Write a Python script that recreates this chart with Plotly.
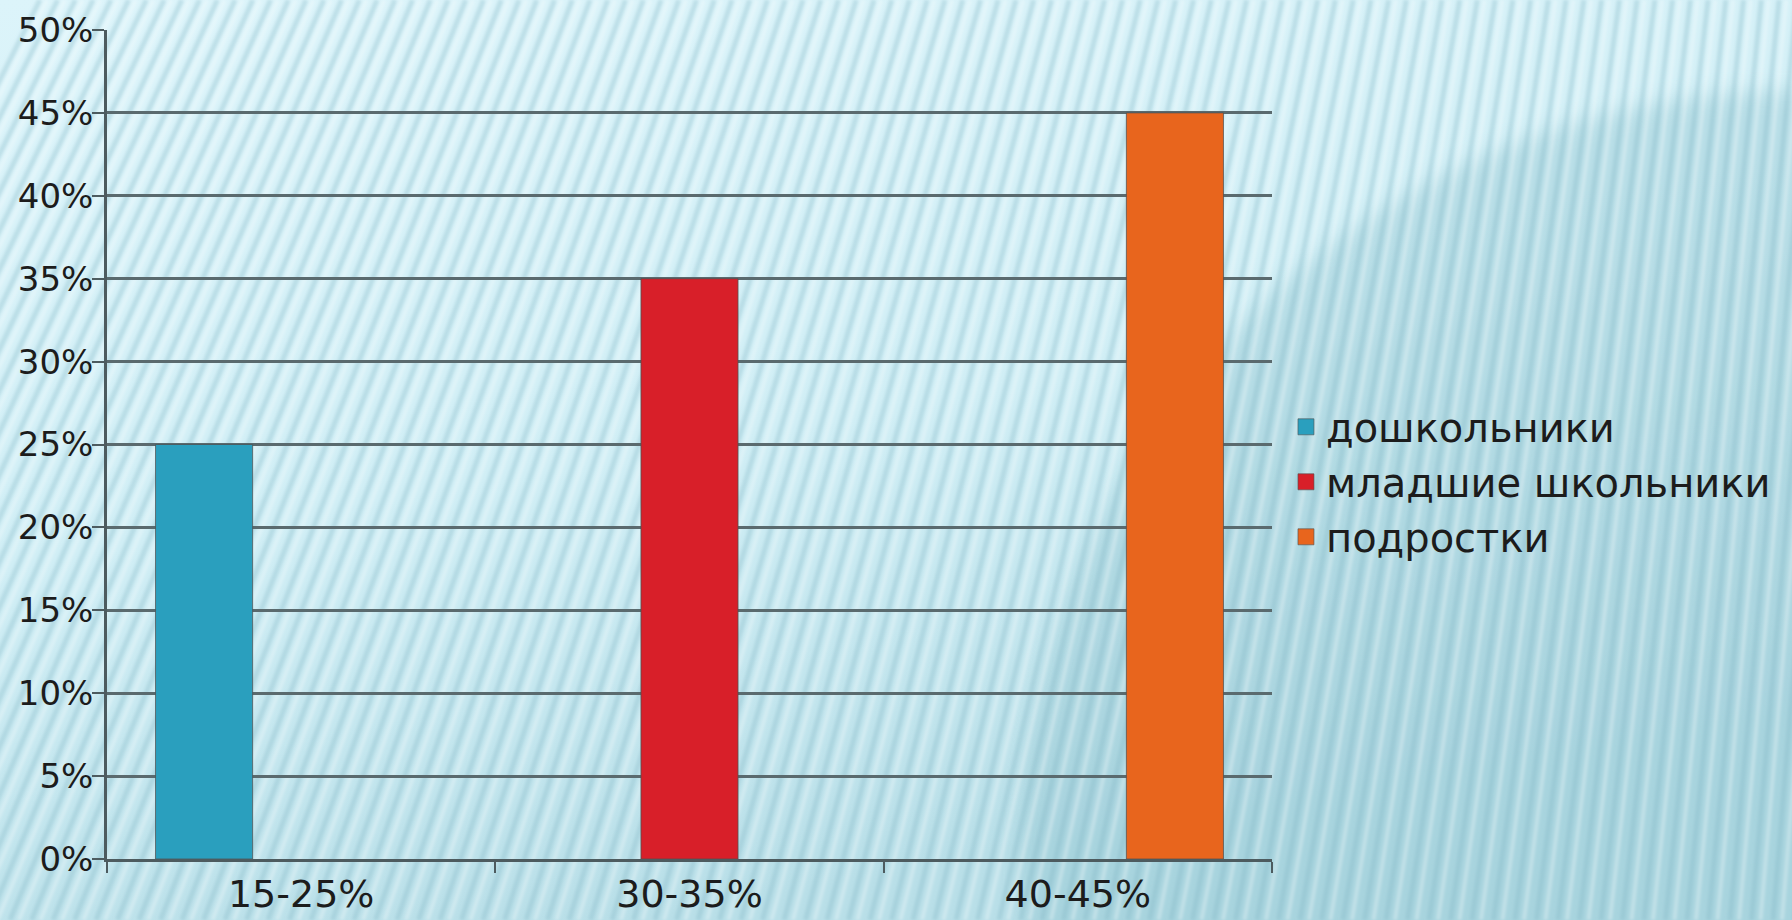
import base64
import plotly.graph_objects as go

# Chart data
categories = ["15-25%", "30-35%", "40-45%"]
series_names = ["дошкольники", "младшие школьники", "подростки"]
preschool = [25, None, None]
junior_school = [None, 35, None]
teenagers = [None, None, 45]
series_values = [preschool, junior_school, teenagers]
series_colors = ["#2a9fbe", "#d81f29", "#e8651d"]
y_ticks = [0, 5, 10, 15, 20, 25, 30, 35, 40, 45, 50]
y_tick_labels = [f"{v}%" for v in y_ticks]

W, H = 1792, 920
ML, MR, MT, MB = 107, 520, 30, 61
PW, PH = W - ML - MR, H - MT - MB


def background_svg():
    """Light cyan slide background with fanned diagonal stripes."""
    vx, vy = 2214.0, -4350.0  # point the stripes converge towards
    dark, light = [], []
    x = -420.0
    t = H / (H - vy)
    while x < W + 60:
        xt = x + (vx - x) * t
        dark.append(f'<line x1="{x:.1f}" y1="{H}" x2="{xt:.1f}" y2="0"/>')
        xl = x + 9
        xtl = xl + (vx - xl) * t
        light.append(f'<line x1="{xl:.1f}" y1="{H}" x2="{xtl:.1f}" y2="0"/>')
        x += 21.5
    svg = f'''<svg xmlns="http://www.w3.org/2000/svg" width="{W}" height="{H}" viewBox="0 0 {W} {H}">
<defs>
<linearGradient id="bg" x1="0" y1="0" x2="0.35" y2="1">
<stop offset="0" stop-color="#dcf4fa"/>
<stop offset="0.55" stop-color="#d0eef5"/>
<stop offset="1" stop-color="#b9dfe8"/>
</linearGradient>
<filter id="soft"><feGaussianBlur stdDeviation="1.6"/></filter>
<filter id="wide"><feGaussianBlur stdDeviation="10"/></filter>
</defs>
<rect width="{W}" height="{H}" fill="url(#bg)"/>
<circle cx="1795" cy="865" r="775" fill="#8fc3cf" opacity="0.38" filter="url(#wide)"/>
<g filter="url(#soft)">
<g stroke="#7fb5c3" stroke-opacity="0.32" stroke-width="5">{''.join(dark)}</g>
<g stroke="#ffffff" stroke-opacity="0.30" stroke-width="4">{''.join(light)}</g>
</g>
</svg>'''
    return "data:image/svg+xml;base64," + base64.b64encode(svg.encode()).decode()


fig = go.Figure()
for name, vals, col in zip(series_names, series_values, series_colors):
    fig.add_trace(go.Bar(
        x=categories, y=vals, name=name, legendgroup=name, showlegend=False,
        marker=dict(color=col, line=dict(color="rgba(80,80,80,0.75)", width=1)),
    ))
# legend entries with larger square swatches
for name, col in zip(series_names, series_colors):
    fig.add_trace(go.Scatter(
        x=[None], y=[None], mode="markers", name=name, legendgroup=name,
        marker=dict(symbol="square", size=16, color=col,
                    line=dict(color="rgba(80,80,80,0.6)", width=1)),
    ))

axis_col = "#4d5b5f"
fig.update_layout(
    width=W, height=H,
    margin=dict(l=ML, r=MR, t=MT, b=MB, autoexpand=False),
    paper_bgcolor="#d2eef5",
    plot_bgcolor="rgba(0,0,0,0)",
    barmode="group", bargap=0.25, bargroupgap=0,
    showlegend=True,
    legend=dict(
        x=1.012, xanchor="left", y=0.455, yanchor="middle",
        font=dict(family="DejaVu Sans", size=40, color="#1c1c1c"),
        bgcolor="rgba(0,0,0,0)", tracegroupgap=0, itemwidth=30,
    ),
    images=[dict(
        source=background_svg(), xref="paper", yref="paper",
        x=-ML / PW, y=1 + MT / PH, sizex=W / PW, sizey=H / PH,
        xanchor="left", yanchor="top", sizing="stretch", layer="below",
    )],
)
fig.update_xaxes(
    type="category", range=[-0.5, 2.5], tickson="boundaries",
    ticks="outside", ticklen=11, tickwidth=2, tickcolor=axis_col,
    showline=True, linecolor=axis_col, linewidth=2.5, showgrid=False,
    tickfont=dict(family="DejaVu Sans", size=38, color="#1c1c1c"),
)
fig.update_yaxes(
    range=[0, 50], tickmode="array", tickvals=y_ticks, ticktext=y_tick_labels,
    ticks="outside", ticklen=12, tickwidth=2, tickcolor=axis_col,
    showline=True, linecolor=axis_col, linewidth=2.5,
    showgrid=True, gridcolor="#5a6a6e", gridwidth=2.5, zeroline=False,
    ticklabelstandoff=-8,
    tickfont=dict(family="DejaVu Sans", size=34, color="#1c1c1c"),
)

fig.write_html("out.html")
